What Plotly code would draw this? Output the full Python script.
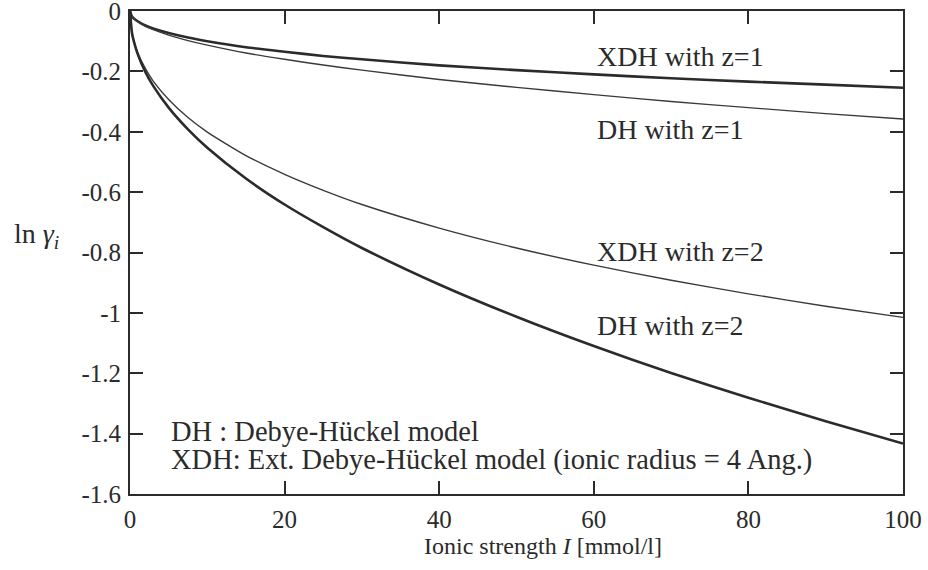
import plotly.graph_objects as go

# Ionic strength I [mmol/l]
ionic_strength = [0, 0.25, 0.5, 1, 2, 3, 5, 7.5, 10, 15, 20, 25, 30, 40, 50, 60, 70, 80, 90, 100]

# ln gamma_i
xdh_z1 = [0, -0.018, -0.025, -0.034, -0.048, -0.058, -0.073, -0.088, -0.100, -0.120, -0.135,
          -0.149, -0.160, -0.180, -0.196, -0.210, -0.223, -0.234, -0.244, -0.254]
dh_z1 = [0, -0.018, -0.025, -0.036, -0.051, -0.062, -0.080, -0.098, -0.113, -0.139, -0.160,
         -0.179, -0.196, -0.227, -0.253, -0.277, -0.300, -0.320, -0.340, -0.358]
xdh_z2 = [0, -0.070, -0.098, -0.138, -0.191, -0.232, -0.293, -0.353, -0.401, -0.479, -0.541,
          -0.594, -0.641, -0.719, -0.785, -0.842, -0.892, -0.937, -0.978, -1.015]
dh_z2 = [0, -0.072, -0.101, -0.143, -0.203, -0.248, -0.320, -0.392, -0.453, -0.555, -0.641,
         -0.716, -0.785, -0.906, -1.013, -1.110, -1.199, -1.281, -1.359, -1.433]

x_ticks = [0, 20, 40, 60, 80, 100]
x_ticktext = ["0", "20", "40", "60", "80", "100"]
y_ticks = [0, -0.2, -0.4, -0.6, -0.8, -1.0, -1.2, -1.4, -1.6]
y_ticktext = ["0", "-0.2", "-0.4", "-0.6", "-0.8", "-1", "-1.2", "-1.4", "-1.6"]

curve_labels = ["XDH with z=1", "DH with z=1", "XDH with z=2", "DH with z=2"]
curve_label_y = [-0.152, -0.394, -0.798, -1.043]
note_lines = ["DH : Debye-Hückel model",
              "XDH: Ext. Debye-Hückel model (ionic radius = 4 Ang.)"]

FONT = "Liberation Serif"
INK = "#2b2b2b"

fig = go.Figure()
series = [(xdh_z1, 2.6, "#2b2b2b"), (dh_z1, 1.4, "#3a3a3a"),
          (xdh_z2, 1.4, "#3a3a3a"), (dh_z2, 2.6, "#2b2b2b")]
for ys, w, c in series:
    fig.add_trace(go.Scatter(x=ionic_strength, y=ys, mode="lines",
                             line=dict(color=c, width=w, shape="spline", smoothing=0.6),
                             showlegend=False, hoverinfo="skip"))

for lab, yv in zip(curve_labels, curve_label_y):
    fig.add_annotation(x=60.2, y=yv, xref="x", yref="y", text=lab, showarrow=False,
                       xanchor="left", yanchor="middle",
                       font=dict(family=FONT, size=28, color=INK))

for txt, yv in zip(note_lines, [-1.394, -1.487]):
    fig.add_annotation(x=5.0, y=yv, xref="x", yref="y", text=txt, showarrow=False,
                       xanchor="left", yanchor="middle",
                       font=dict(family=FONT, size=28.5, color=INK))

fig.add_annotation(x=-0.153, y=0.536, xref="paper", yref="paper",
                   text="ln <i>γ</i><sub><i>i</i></sub>", showarrow=False,
                   xanchor="left", yanchor="middle",
                   font=dict(family=FONT, size=28, color=INK))
fig.add_annotation(x=0.534, y=-0.108, xref="paper", yref="paper",
                   text="Ionic strength <i>I</i> [mmol/l]", showarrow=False,
                   xanchor="center", yanchor="middle",
                   font=dict(family=FONT, size=24, color=INK))

axis_common = dict(showline=True, linecolor=INK, linewidth=2, mirror="allticks",
                   ticks="inside", ticklen=13, tickwidth=2, tickcolor=INK,
                   showgrid=False, zeroline=False, automargin=False,
                   ticklabeloverflow="allow",
                   tickfont=dict(family=FONT, size=25, color=INK))

fig.update_layout(
    width=928, height=570,
    margin=dict(l=130, r=25, t=11, b=76),
    paper_bgcolor="white", plot_bgcolor="white",
    xaxis=dict(range=[0, 100], tickvals=x_ticks, ticktext=x_ticktext,
               ticklabelstandoff=2, **axis_common),
    yaxis=dict(range=[-1.6, 0], tickvals=y_ticks, ticktext=y_ticktext,
               ticklabelstandoff=2, **axis_common),
)

fig.write_html("out.html", config={"displayModeBar": False},
               post_script="document.body.style.margin='0';")
